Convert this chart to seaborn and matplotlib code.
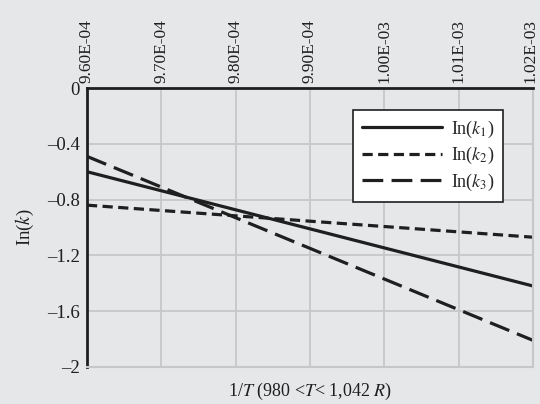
import numpy as np
import pandas as pd
import matplotlib
matplotlib.use("Agg")
import matplotlib.pyplot as plt
import matplotlib.transforms as mtransforms
from matplotlib.ticker import FuncFormatter
import seaborn as sns

# values (endpoints of straight lines)
inv_T = [9.60e-4, 1.02e-3]
ln_k1 = [-0.60, -1.42]
ln_k2 = [-0.84, -1.07]
ln_k3 = [-0.49, -1.81]
series_names = ["In($k_1$)", "In($k_2$)", "In($k_3$)"]
x_ticks = [9.6e-4, 9.7e-4, 9.8e-4, 9.9e-4, 1.0e-3, 1.01e-3, 1.02e-3]
y_ticks = [0, -0.4, -0.8, -1.2, -1.6, -2]

sns.set_style("white")
plt.rcParams["font.family"] = ["Liberation Serif", "DejaVu Serif"]
plt.rcParams["mathtext.fontset"] = "stix"

bg = "#e6e7e9"
grid_c = "#c6c7c9"
ink = "#1f1f1f"

df = pd.DataFrame({
    "x": inv_T * 3,
    "y": ln_k1 + ln_k2 + ln_k3,
    "series": [series_names[0]] * 2 + [series_names[1]] * 2 + [series_names[2]] * 2,
})

fig = plt.figure(figsize=(5.4, 4.04), dpi=100, facecolor=bg)
ax = fig.add_axes([0.161, 0.092, 0.826, 0.69])
ax.set_facecolor(bg)

dashes = {series_names[0]: "", series_names[1]: (3.2, 1.7), series_names[2]: (6.5, 2.6)}
sns.lineplot(data=df, x="x", y="y", style="series", dashes=dashes,
             color=ink, linewidth=2.3, ax=ax, legend="full")

ax.set_xlim(9.6e-4, 1.02e-3)
ax.set_ylim(-2, 0)
ax.set_xticks(x_ticks)
ax.set_yticks(y_ticks)
ax.xaxis.tick_top()
ax.xaxis.set_label_position("bottom")
ax.xaxis.set_major_formatter(FuncFormatter(lambda v, p: f"{v:.2E}"))
ax.yaxis.set_major_formatter(FuncFormatter(lambda v, p: ("\u2013" if v < 0 else "") + (f"{abs(v):g}")))
ax.tick_params(axis="x", length=0, pad=4, labelsize=12.5, rotation=90, colors=ink)
ax.tick_params(axis="y", length=0, pad=5, labelsize=13.5, colors=ink)

# keep the last top label inside the canvas
last = ax.get_xticklabels(which="major")[-1]
last.set_transform(last.get_transform() + mtransforms.ScaledTranslation(-2 / 72, 0, fig.dpi_scale_trans))

ax.grid(True, color=grid_c, linewidth=1.3)
ax.set_axisbelow(True)
for s in ["left", "top"]:
    ax.spines[s].set_color(ink)
    ax.spines[s].set_linewidth(2)
for s in ["right", "bottom"]:
    ax.spines[s].set_color(grid_c)
    ax.spines[s].set_linewidth(1.5)

ax.set_xlabel("1/$T$ (980 <$T$< 1,042 $R$)", fontsize=13, color=ink, labelpad=10)
ax.set_ylabel("In($k$)", fontsize=13.5, color=ink, labelpad=8)

leg = ax.legend(loc="upper right", bbox_to_anchor=(0.953, 0.955), fontsize=13,
                frameon=True, fancybox=False, edgecolor=ink, facecolor="white",
                framealpha=1, handlelength=4.4, borderpad=0.5, labelspacing=0.3,
                handletextpad=0.5)
leg.get_frame().set_linewidth(1.2)
for line in leg.get_lines():
    line.set_linewidth(2.3)

fig.savefig("out.png", dpi=100, facecolor=bg)
